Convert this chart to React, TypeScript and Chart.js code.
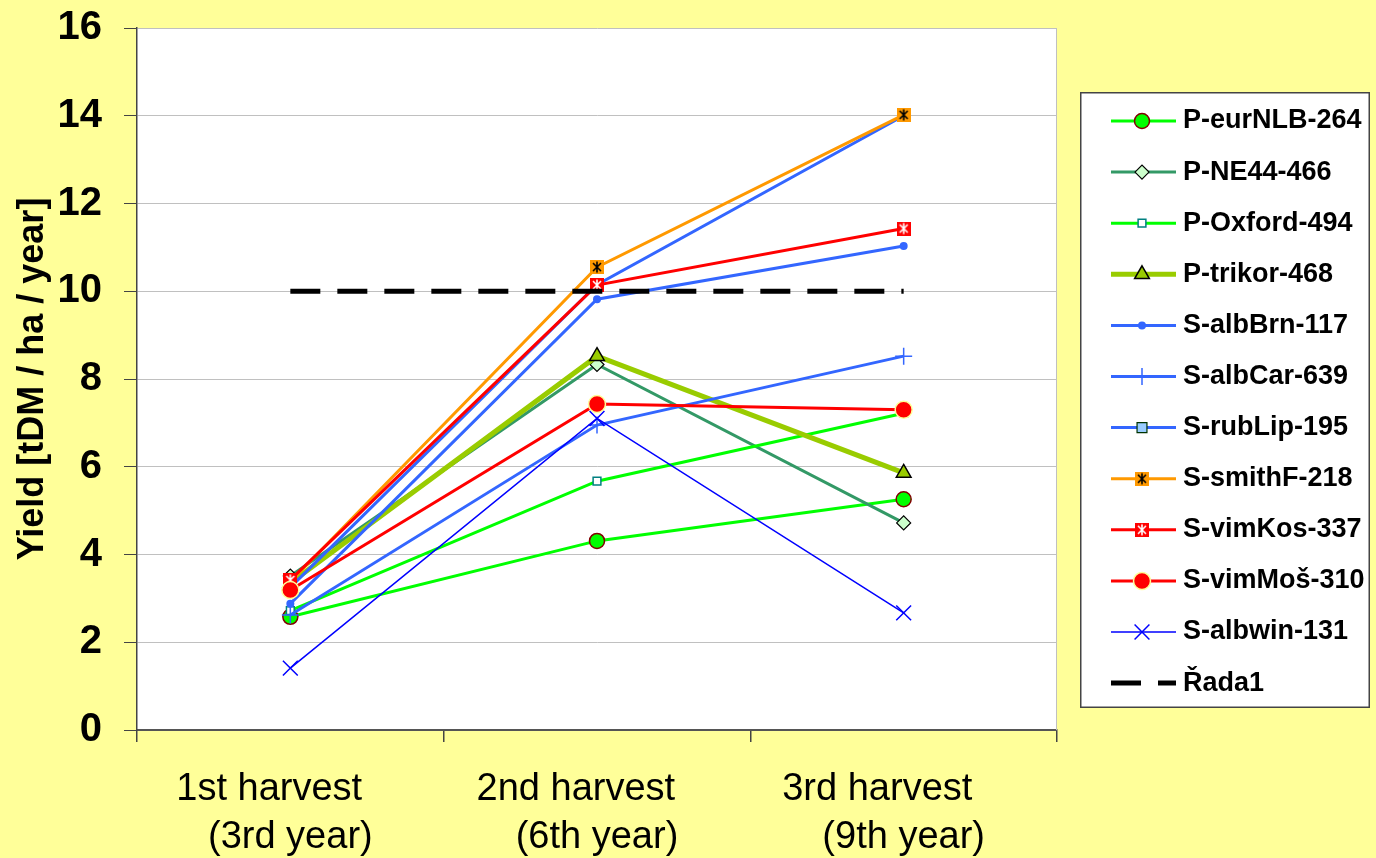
import React, { useEffect, useRef } from 'react';
import { Chart, registerables } from 'chart.js';
import { drawPoint } from 'chart.js/helpers';

Chart.register(...registerables);

const categories = [
  ['1st harvest    ', '(3rd year)'],
  ['2nd harvest    ', '(6th year)'],
  ['3rd harvest     ', '(9th year)'],
];
const seriesNames = [
  'P-eurNLB-264', 'P-NE44-466', 'P-Oxford-494', 'P-trikor-468', 'S-albBrn-117', 'S-albCar-639',
  'S-rubLip-195', 'S-smithF-218', 'S-vimKos-337', 'S-vimMoš-310', 'S-albwin-131', 'Řada1',
];
const pEurNLB = [2.58, 4.31, 5.26];
const pNE44 = [3.51, 8.33, 4.72];
const pOxford = [2.72, 5.67, 7.22];
const pTrikor = [3.35, 8.52, 5.86];
const sAlbBrn = [2.88, 9.82, 11.03];
const sAlbCar = [2.62, 6.95, 8.52];
const sRubLip = [3.25, 10.15, 14.0];
const sSmithF = [3.38, 10.55, 14.02];
const sVimKos = [3.42, 10.14, 11.43];
const sVimMos = [3.19, 7.43, 7.3];
const sAlbwin = [1.41, 7.1, 2.67];
const rada1 = [10, 10, 10];
const yTicks = [0, 2, 4, 6, 8, 10, 12, 14, 16];

const FONT = "'Liberation Sans', Arial, sans-serif";

function starSquare(bg: string, fg: string): HTMLCanvasElement {
  const c = document.createElement('canvas');
  c.width = 14;
  c.height = 14;
  const g = c.getContext('2d')!;
  g.fillStyle = bg;
  g.fillRect(0, 0, 14, 14);
  g.strokeStyle = fg;
  g.lineWidth = 1.6;
  g.beginPath();
  g.moveTo(7, 1.5); g.lineTo(7, 12.5);
  g.moveTo(3, 3); g.lineTo(11, 11);
  g.moveTo(11, 3); g.lineTo(3, 11);
  g.stroke();
  return c;
}

export default function App() {
  const ref = useRef<HTMLCanvasElement | null>(null);

  useEffect(() => {
    document.body.style.margin = '0';
    const canvas = ref.current!;
    const smithImg = starSquare('#FF9900', '#000000');
    const kosImg = starSquare('#FF0000', '#FFFFFF');

    const values = [pEurNLB, pNE44, pOxford, pTrikor, sAlbBrn, sAlbCar, sRubLip, sSmithF, sVimKos, sVimMos, sAlbwin, rada1];
    const styles: any[] = [
      { borderColor: '#00FF00', borderWidth: 3, pointStyle: 'circle', pointRadius: 7.5, pointBackgroundColor: '#00FF00', pointBorderColor: '#800000', pointBorderWidth: 1.5 },
      { borderColor: '#339966', borderWidth: 3, pointStyle: 'rectRot', pointRadius: 7, pointBackgroundColor: '#CCFFCC', pointBorderColor: '#000000', pointBorderWidth: 1.2 },
      { borderColor: '#00FF00', borderWidth: 3, pointStyle: 'rect', pointRadius: 5.5, pointBackgroundColor: '#FFFFFF', pointBorderColor: '#008080', pointBorderWidth: 1.5 },
      { borderColor: '#99CC00', borderWidth: 5, pointStyle: 'triangle', pointRadius: 8.5, pointBackgroundColor: '#99CC00', pointBorderColor: '#000000', pointBorderWidth: 1.5 },
      { borderColor: '#3366FF', borderWidth: 3, pointStyle: 'circle', pointRadius: 4, pointBackgroundColor: '#3366FF', pointBorderColor: '#3366FF', pointBorderWidth: 0 },
      { borderColor: '#3366FF', borderWidth: 2.8, pointStyle: 'cross', pointRadius: 8.5, pointBackgroundColor: '#3366FF', pointBorderColor: '#3366FF', pointBorderWidth: 1.5 },
      { borderColor: '#3366FF', borderWidth: 3, pointStyle: 'rect', pointRadius: 7, pointBackgroundColor: '#99CCFF', pointBorderColor: '#003300', pointBorderWidth: 1.2 },
      { borderColor: '#FF9900', borderWidth: 3, pointStyle: smithImg, pointRadius: 7, pointBackgroundColor: '#FF9900', pointBorderColor: '#000000', pointBorderWidth: 0 },
      { borderColor: '#FF0000', borderWidth: 3, pointStyle: kosImg, pointRadius: 7, pointBackgroundColor: '#FF0000', pointBorderColor: '#FFFFFF', pointBorderWidth: 0 },
      { borderColor: '#FF0000', borderWidth: 3, pointStyle: 'circle', pointRadius: 8.5, pointBackgroundColor: '#FF0000', pointBorderColor: '#FFFF99', pointBorderWidth: 1.5 },
      { borderColor: '#0000FF', borderWidth: 1.5, pointStyle: 'crossRot', pointRadius: 10.5, pointBackgroundColor: '#0000FF', pointBorderColor: '#0000FF', pointBorderWidth: 1.5 },
      { borderColor: '#000000', borderWidth: 5, borderDash: [30, 17], pointStyle: 'circle', pointRadius: 0, pointBackgroundColor: '#000', pointBorderColor: '#000', pointBorderWidth: 0 },
    ];
    const n = seriesNames.length;
    const datasets = seriesNames.map((name, i) => ({
      label: name,
      data: values[i],
      tension: 0,
      fill: false,
      order: n - i,
      pointHoverRadius: styles[i].pointRadius,
      ...styles[i],
    }));

    const bgPlugin = {
      id: 'plotBg',
      beforeDraw(chart: any) {
        const { ctx, chartArea: a } = chart;
        ctx.save();
        ctx.fillStyle = '#FFFFFF';
        ctx.fillRect(a.left, a.top, a.right - a.left, a.bottom - a.top);
        ctx.restore();
      },
      beforeDatasetsDraw(chart: any) {
        const { ctx, chartArea: a } = chart;
        ctx.save();
        ctx.strokeStyle = '#C0C0C0';
        ctx.lineWidth = 1;
        ctx.beginPath();
        ctx.moveTo(a.right - 0.5, a.top);
        ctx.lineTo(a.right - 0.5, a.bottom);
        ctx.stroke();
        ctx.restore();
      },
    };

    const legendPlugin = {
      id: 'customLegend',
      afterDraw(chart: any) {
        const ctx = chart.ctx;
        ctx.save();
        ctx.fillStyle = '#FFFFFF';
        ctx.fillRect(1080, 92, 290, 616);
        ctx.strokeStyle = '#444444';
        ctx.lineWidth = 1.5;
        ctx.strokeRect(1080.75, 92.75, 288.5, 614.5);
        chart.data.datasets.forEach((ds: any, i: number) => {
          const y = 121 + i * 51.1;
          ctx.save();
          ctx.strokeStyle = ds.borderColor;
          ctx.lineWidth = ds.borderWidth;
          ctx.setLineDash(ds.borderDash || []);
          ctx.beginPath();
          ctx.moveTo(1111, y);
          ctx.lineTo(1176, y);
          ctx.stroke();
          ctx.restore();
          if (ds.pointRadius > 0) {
            ctx.save();
            ctx.fillStyle = ds.pointBackgroundColor;
            ctx.strokeStyle = ds.pointBorderColor;
            ctx.lineWidth = ds.pointBorderWidth;
            drawPoint(ctx, { pointStyle: ds.pointStyle, radius: ds.pointRadius, rotation: 0, borderWidth: ds.pointBorderWidth } as any, 1142, y);
            ctx.restore();
          }
          ctx.fillStyle = '#000000';
          ctx.font = `bold 27px ${FONT}`;
          ctx.textAlign = 'left';
          ctx.textBaseline = 'middle';
          ctx.fillText(ds.label, 1183, y);
        });
        ctx.restore();
      },
    };

    const chart = new Chart(canvas, {
      type: 'line',
      data: { labels: categories as any, datasets },
      options: {
        animation: false,
        responsive: false,
        devicePixelRatio: 1,
        layout: { padding: { left: 0, right: 319, top: 28, bottom: 0 } },
        plugins: { legend: { display: false }, tooltip: { enabled: false } },
        scales: {
          x: {
            type: 'category',
            offset: true,
            afterFit: (s: any) => { s.height = 128; },
            grid: { offset: true, drawOnChartArea: false, drawTicks: true, tickLength: 12, color: '#444444', tickColor: '#444444', lineWidth: 1.5 },
            border: { display: true, color: '#555555', width: 2 },
            ticks: { color: '#000000', padding: 24, maxRotation: 0, autoSkip: false, font: { family: FONT, size: 38, weight: 'normal', lineHeight: 1.26 } },
          },
          y: {
            min: 0,
            max: 16,
            afterFit: (s: any) => { s.width = 137; s.paddingTop = 0; s.paddingBottom = 0; },
            afterBuildTicks: (s: any) => { s.ticks = yTicks.map((v) => ({ value: v })); },
            grid: { color: '#C0C0C0', lineWidth: 1, tickColor: '#444444', tickLength: 13, drawTicks: true },
            border: { display: true, color: '#444444', width: 1.5 },
            ticks: { color: '#000000', padding: 22, font: { family: FONT, size: 40, weight: 'bold' } },
            title: { display: true, text: 'Yield [tDM / ha / year]', color: '#000000', padding: { top: 11, bottom: 0 }, font: { family: FONT, size: 36, weight: 'bold' } },
          },
        },
      },
      plugins: [bgPlugin, legendPlugin],
    });
    return () => chart.destroy();
  }, []);

  return (
    <div style={{ width: 1376, height: 858, background: '#FFFF99', overflow: 'hidden' }}>
      <canvas ref={ref} width={1376} height={858} style={{ display: 'block', width: 1376, height: 858 }} />
    </div>
  );
}
